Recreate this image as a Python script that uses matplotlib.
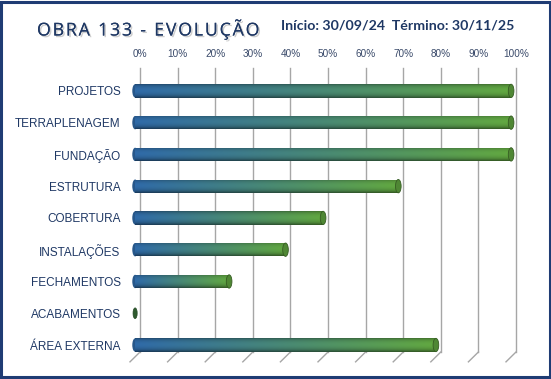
import numpy as np
import matplotlib.pyplot as plt
from matplotlib.patches import Ellipse, Rectangle
import matplotlib.patheffects as pe

# data
categorias = ['PROJETOS', 'TERRAPLENAGEM', 'FUNDAÇÃO', 'ESTRUTURA', 'COBERTURA',
              'INSTALAÇÕES', 'FECHAMENTOS', 'ACABAMENTOS', 'ÁREA EXTERNA']
percentual = [100, 100, 100, 70, 50, 40, 25, 0, 80]
ticks = list(range(0, 101, 10))
tick_labels = [f'{t}%' for t in ticks]
titulo = 'OBRA 133 - EVOLUÇÃO'
datas = 'Início: 30/09/24  Término: 30/11/25'

navy = '#1F3864'
blue = np.array([0.17, 0.38, 0.60])
green = np.array([0.35, 0.60, 0.23])

fig = plt.figure(figsize=(5.51, 3.79), dpi=100)
W, H = 551, 379
ax = fig.add_axes([140 / W, (H - 352) / H, 376 / W, 284 / H])

ax.set_xlim(0, 100)
ax.set_ylim(8.22, -0.72)
for s in ax.spines.values():
    s.set_visible(False)

# gridlines + 3d floor stubs
ax.set_xticks(ticks)
ax.set_xticklabels(tick_labels, fontsize=7.2, color='#3A4A6A', family=['Liberation Sans', 'DejaVu Sans'])
ax.xaxis.tick_top()
ax.tick_params(axis='x', length=0, pad=6.5)
for t in ticks:
    ax.plot([t, t], [-0.72, 8.22], color='#A6A6A6', lw=1.0, zorder=1, clip_on=False)
    ax.plot([t, t - 2.66], [8.22, 8.53], color='#A6A6A6', lw=1.0, zorder=1, clip_on=False)

ax.set_yticks(range(len(categorias)))
ax.set_yticklabels(categorias, fontsize=8.5, color=navy, family=['Liberation Sans', 'DejaVu Sans'])
ax.tick_params(axis='y', length=0, pad=14)

# cylinder bars
depth = 1.3
bh = 0.42
u = np.linspace(0, 1, 40)
shade = 0.72 + 0.38 * np.sin(np.pi * np.clip(u * 1.1, 0, 1)) ** 0.6
shade[-4:] *= np.linspace(1.0, 0.8, 4)
bars = ax.barh(range(len(categorias)), percentual, height=bh, left=-depth,
               color='none', edgecolor='none', zorder=3)
for i, (bar, v) in enumerate(zip(bars, percentual)):
    x0 = -depth
    x1 = v - depth
    if v > 0:
        t = np.linspace(0, 1, 200)
        col = blue[None, :] * (1 - t[:, None]) + green[None, :] * t[:, None]
        img = np.clip(shade[:, None, None] * col[None, :, :], 0, 1)
        im = ax.imshow(img, extent=[x0, x1, i + bh / 2, i - bh / 2],
                       aspect='auto', zorder=3, interpolation='bilinear')
        im.set_clip_path(bar)
        ax.add_patch(Ellipse((x0, i), 1.5, bh, color=blue * 0.9, zorder=2.9, lw=0,
                             clip_on=False))
        ax.add_patch(Ellipse((x1, i), 1.5, bh, facecolor=green * 0.88,
                             edgecolor=green * 0.6, lw=0.6, zorder=4, clip_on=False))
    else:
        ax.add_patch(Ellipse((x0, i), 1.1, bh * 0.8, facecolor='#2E5A2E',
                             edgecolor='#244824', lw=0.5, zorder=4, clip_on=False))

# titles
fig.text(37 / W, 1 - 29 / H, '\u200a'.join(titulo), fontsize=12.8, color=navy,
         family=['Open Sans', 'DejaVu Sans'], va='center', ha='left',
         path_effects=[pe.withSimplePatchShadow(offset=(1.2, -1.2), shadow_rgbFace='#B8B8B8', alpha=0.7),
                       pe.Normal()])
fig.text(281 / W, 1 - 26 / H, datas, fontsize=10.2, color=navy, family=['Lato', 'DejaVu Sans'],
         weight='bold', va='center', ha='left')

# outer frame
fig.patches.append(Rectangle((0.002, 0.004), 0.996, 0.992, transform=fig.transFigure,
                             fill=False, edgecolor='#1F3C74', lw=2.2))

fig.savefig('out.png', dpi=100)
